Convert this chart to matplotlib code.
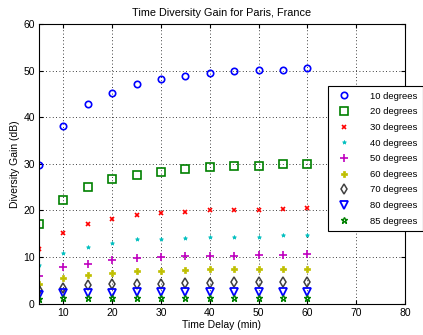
import matplotlib
matplotlib.use("Agg")
import matplotlib.pyplot as plt

plt.rcParams['font.family'] = ['Liberation Sans', 'DejaVu Sans']

delay = [5, 10, 15, 20, 25, 30, 35, 40, 45, 50, 55, 60]

gain_10 = [29.8, 38.2, 42.8, 45.3, 47.1, 48.2, 48.9, 49.5, 49.9, 50.2, 50.3, 50.6]
gain_20 = [17.2, 22.3, 25.1, 26.7, 27.6, 28.3, 28.9, 29.3, 29.5, 29.6, 29.9, 30.0]
gain_30 = [11.7, 15.2, 17.1, 18.2, 19.0, 19.4, 19.6, 20.0, 20.1, 20.2, 20.4, 20.5]
gain_40 = [8.2, 10.8, 12.1, 13.0, 13.8, 13.8, 14.1, 14.2, 14.4, 14.4, 14.7, 14.7]
gain_50 = [6.0, 7.8, 8.6, 9.4, 9.7, 9.9, 10.2, 10.3, 10.3, 10.4, 10.4, 10.6]
gain_60 = [4.3, 5.5, 6.1, 6.5, 6.9, 6.9, 7.2, 7.4, 7.4, 7.4, 7.4, 7.5]
gain_70 = [2.9, 3.4, 4.0, 4.2, 4.3, 4.3, 4.5, 4.5, 4.6, 4.6, 4.6, 4.6]
gain_80 = [1.8, 2.2, 2.2, 2.3, 2.4, 2.4, 2.4, 2.4, 2.4, 2.4, 2.4, 2.5]
gain_85 = [1.0, 1.1, 1.1, 1.2, 1.2, 1.2, 1.2, 1.2, 1.2, 1.2, 1.2, 1.2]

labels = ['10 degrees', '20 degrees', '30 degrees', '40 degrees', '50 degrees',
          '60 degrees', '70 degrees', '80 degrees', '85 degrees']

series = [gain_10, gain_20, gain_30, gain_40, gain_50, gain_60, gain_70, gain_80, gain_85]

styles = [
    dict(marker='o', mfc='none', mec=(0, 0, 1), ms=4.6, mew=1.2),
    dict(marker='s', mfc='none', mec=(0, 0.5, 0), ms=5.3, mew=1.2),
    dict(marker='x', mfc='none', mec=(1, 0, 0), ms=2.6, mew=1.2),
    dict(marker='*', mfc=(0, 0.75, 0.75), mec=(0, 0.75, 0.75), ms=3.0, mew=0.5),
    dict(marker='+', mfc='none', mec=(0.75, 0, 0.75), ms=6, mew=1.2),
    dict(marker='P', mfc=(0.75, 0.75, 0), mec=(0.75, 0.75, 0), ms=5, mew=0.5),
    dict(marker='d', mfc='none', mec=(0.25, 0.25, 0.25), ms=5, mew=1.1),
    dict(marker='v', mfc='none', mec=(0, 0, 1), ms=5.8, mew=1.3),
    dict(marker='*', mfc='none', mec=(0, 0.5, 0), ms=5, mew=1.0),
]

fig = plt.figure(figsize=(4.23, 3.35), dpi=100)
ax = fig.add_axes([0.0922, 0.094, 0.865, 0.833])

for vals, lab, st in zip(series, labels, styles):
    ax.plot(delay, vals, linestyle='none', label=lab, **st)

ax.set_xlim(5, 80)
ax.set_ylim(0, 60)
ax.set_xticks([10, 20, 30, 40, 50, 60, 70, 80])
ax.set_yticks([0, 10, 20, 30, 40, 50, 60])
ax.grid(True, linestyle=(0, (1, 3)), color='black', linewidth=0.6)
ax.tick_params(direction='in', labelsize=7.5, length=3, top=True, right=True, pad=3)
for sp in ax.spines.values():
    sp.set_linewidth(0.8)

ax.set_title('Time Diversity Gain for Paris, France', fontsize=7.8, pad=6)
ax.set_xlabel('Time Delay (min)', fontsize=7.5, labelpad=2)
ax.set_ylabel('Diversity Gain (dB)', fontsize=7.5, labelpad=2)

leg = fig.legend(loc='upper left', bbox_to_anchor=(0.765, 0.757),
                 fontsize=6.8, frameon=True, fancybox=False, framealpha=1,
                 edgecolor='black', borderpad=0.6, labelspacing=0.7,
                 handletextpad=1.6, handlelength=2.2, numpoints=1)
leg.get_frame().set_linewidth(0.8)

fig.savefig('out.png', dpi=100)
